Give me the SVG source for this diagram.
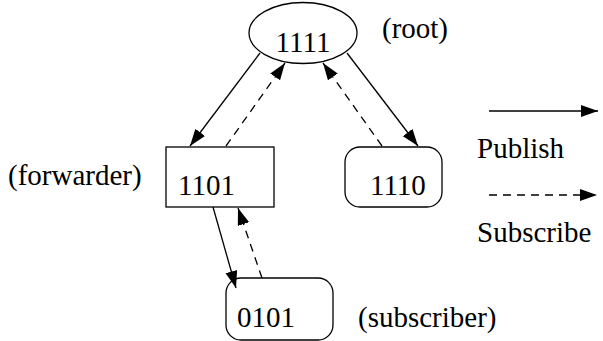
<svg xmlns="http://www.w3.org/2000/svg" width="603" height="341" viewBox="0 0 603 341">
<defs>
<marker id="ah" markerUnits="userSpaceOnUse" markerWidth="18" markerHeight="14" refX="17" refY="6" orient="auto">
<path d="M0,0 L17,6 L0,12 Z" fill="#000"/>
</marker>
<style>
.shape{fill:#fff;stroke:#000;stroke-width:1.3}
.pub{stroke:#000;stroke-width:1.3;fill:none;marker-end:url(#ah)}
.sub{stroke:#000;stroke-width:1.3;fill:none;stroke-dasharray:8,6;marker-end:url(#ah)}
</style>
</defs>
<rect width="603" height="341" fill="#fff"/>
<g font-family="Liberation Serif, Times New Roman, DejaVu Serif, serif" font-size="29" fill="#000">
<g id="root">
<ellipse class="shape" cx="303" cy="33" rx="54" ry="30.5"/>
<text x="303" y="52" text-anchor="middle">1111</text>
<text x="382" y="38">(root)</text>
</g>
<g id="forwarder">
<rect class="shape" x="166" y="147" width="108" height="60"/>
<text x="178" y="195">1101</text>
<text x="8" y="185">(forwarder)</text>
</g>
<g id="n1110">
<rect class="shape" x="345" y="147" width="97" height="60" rx="15" ry="15"/>
<text x="370" y="195">1110</text>
</g>
<g id="subscriber">
<rect class="shape" x="226" y="278" width="107" height="62" rx="15" ry="15"/>
<text x="237" y="327">0101</text>
<text x="358" y="327">(subscriber)</text>
</g>
<g id="legend">
<line class="pub" x1="489" y1="111" x2="598" y2="111"/>
<text x="477" y="158">Publish</text>
<line class="sub" x1="489" y1="195" x2="597" y2="195"/>
<text x="477" y="242">Subscribe</text>
</g>
</g>
<g id="connectors">
<line class="pub" x1="260" y1="53" x2="190" y2="146"/>
<line class="sub" x1="226" y1="146" x2="285" y2="63"/>
<line class="sub" x1="382" y1="146" x2="323" y2="63"/>
<line class="pub" x1="347" y1="53" x2="418" y2="146"/>
<line class="pub" x1="213" y1="207" x2="236" y2="288"/>
<line class="sub" x1="262" y1="278" x2="238" y2="208"/>
</g>
</svg>
